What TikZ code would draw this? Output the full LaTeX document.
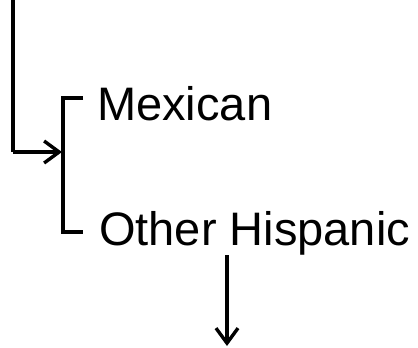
\documentclass[tikz,border=0pt]{standalone}
\usepackage{fontspec}
\setmainfont{Liberation Sans}
\usetikzlibrary{arrows.meta}
\begin{document}
\begin{tikzpicture}[x=1pt,y=-1pt,
  conn/.style={line width=3.4pt},
  arr/.style={conn,-{Straight Barb[length=15pt,width=22pt,line width=3.4pt]}},
  lbl/.style={inner sep=0pt,font=\fontsize{47pt}{50pt}\selectfont,anchor=base west}]
\useasboundingbox (0,0) rectangle (418,348);
\coordinate (src) at (13,-2);
\coordinate (corner) at (13,152);
\coordinate (bmid) at (62,152);
\coordinate (btop) at (63,98);
\coordinate (btopend) at (83,98);
\coordinate (bbot) at (63,232);
\coordinate (bbotend) at (83,232);
\node[lbl] (mex) at (97,120) {Mexican};
\node[lbl] (oth) at (99,245) {Other Hispanic};
\coordinate (dstart) at (227,255);
\coordinate (dend) at (227,346);
\draw[conn] (src) -- (corner);
\draw[arr] (corner) -- (bmid);
\draw[conn] (btopend) -- (btop) -- (bbot) -- (bbotend);
\draw[arr] (dstart) -- (dend);
\end{tikzpicture}
\end{document}
